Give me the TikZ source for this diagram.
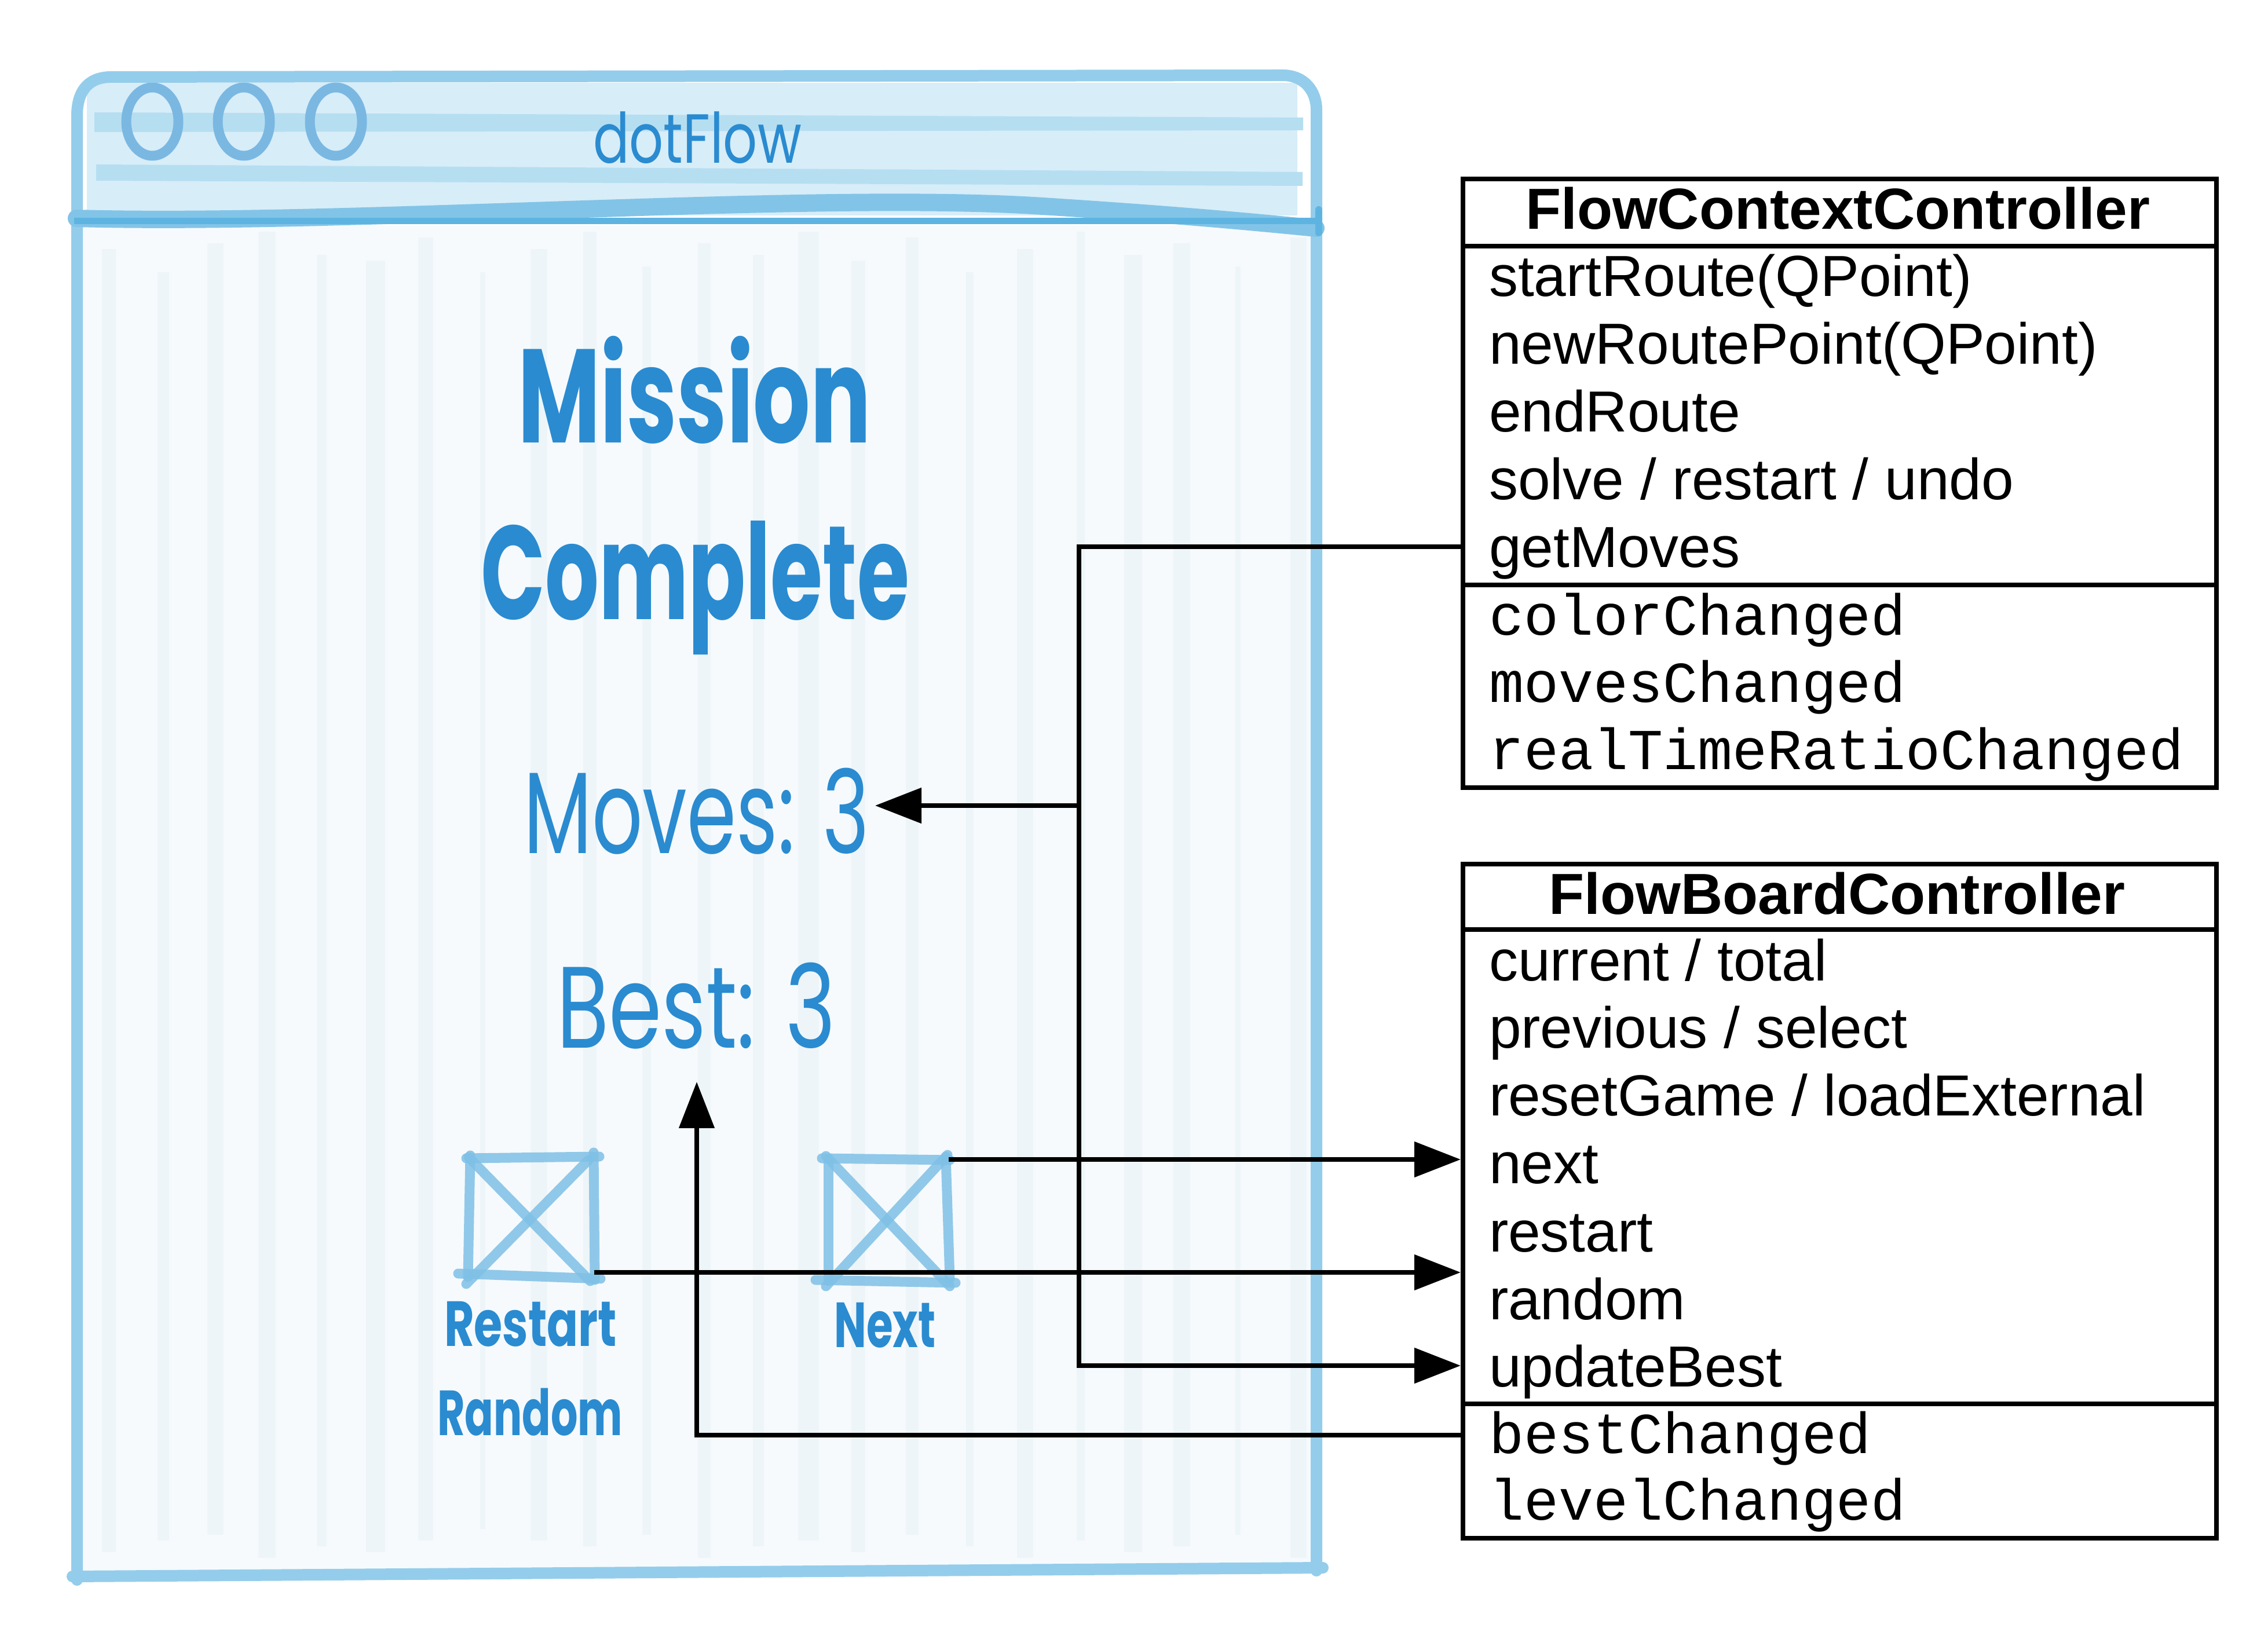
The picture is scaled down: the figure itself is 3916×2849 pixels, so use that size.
\documentclass[tikz,border=0pt]{standalone}
\usepackage{fontspec}
\usepackage{graphicx}
\setmainfont{Liberation Sans}
\setmonofont{Liberation Mono}
\newfontfamily\handfont{Poppins}
\usetikzlibrary{arrows.meta,calc}
\definecolor{hblue}{HTML}{2A8BD0}
\definecolor{wedge}{HTML}{94CDEB}
\definecolor{wdark}{HTML}{5EB4E1}
\definecolor{wwave}{HTML}{82C4E7}
\definecolor{tbar}{HTML}{D7EDF8}
\definecolor{tband}{HTML}{B6DEF1}
\definecolor{circc}{HTML}{7AB8E2}
\definecolor{bodyc}{HTML}{F6FAFD}
\definecolor{stripec}{HTML}{EDF5F8}
\definecolor{btnc}{HTML}{7FC0E6}
\newcommand{\handtext}[3]{\resizebox{#1}{\height}{\handfont\fontsize{#2}{#2}\selectfont #3}}
\begin{document}
\begin{tikzpicture}[x=0.1pt,y=-0.1pt,
  umlpart/.style={draw=black, line width=0.8pt, anchor=north west, inner sep=0pt, minimum width=130.1pt},
  member/.style={anchor=base west, inner sep=0pt, font=\fontsize{10}{12}\selectfont},
  signal/.style={anchor=base west, inner sep=0pt, font=\ttfamily\fontsize{10}{12}\selectfont},
  umltitle/.style={anchor=base, inner sep=0pt, font=\bfseries\fontsize{10}{12}\selectfont},
  conn/.style={draw=black, line width=0.8pt},
  arr/.style={conn, -{Triangle[length=8pt,width=6pt]}},
  hand/.style={text=hblue, inner sep=0pt, anchor=base},
  winedge/.style={draw=wedge, line width=2pt, line cap=round, line join=round},
  sketch/.style={draw=btnc, line width=1.7pt, line cap=round, opacity=0.85},
  btn/.style={inner sep=0pt, draw=none},
]
\useasboundingbox (0,0) rectangle (3916,2849);
\fill[white] (0,0) rectangle (3916,2849);

% ---------- window body ----------
\fill[bodyc] (142,390) rectangle (2264,2712);
\foreach \a/\b/\t/\u in {176/200/430/2680, 272/292/470/2660, 358/386/420/2650, 446/476/400/2690,
  547/564/440/2670, 632/665/450/2680, 722/748/410/2660, 829/838/470/2640, 916/945/430/2660,
  1007/1030/400/2670, 1109/1124/460/2650, 1205/1227/420/2690, 1300/1319/440/2670,
  1378/1414/400/2660, 1470/1494/450/2680, 1564/1586/410/2650, 1668/1681/470/2670,
  1756/1784/430/2690, 1859/1873/400/2660, 1941/1972/440/2680, 2026/2055/420/2670,
  2133/2142/460/2650, 2228/2256/410/2690}
  \fill[stripec] (\a,\t) rectangle (\b,\u);

% ---------- title bar ----------
\fill[tbar] (150,143) rectangle (2240,372);
\fill[tband] (163,194) -- (2250,203) -- (2250,225) -- (163,228) -- cycle;
\fill[tband] (166,284) -- (2249,297) -- (2249,321) -- (166,312) -- cycle;
\draw[circc, line width=1.7pt] (263,210) ellipse [x radius=45, y radius=59];
\draw[circc, line width=1.7pt] (421,210) ellipse [x radius=45, y radius=59];
\draw[circc, line width=1.7pt] (580,210) ellipse [x radius=45, y radius=59];
\node[hand] (dotflow) at (1204,282) {\handtext{36pt}{12}{dotFlow}};

% ---------- window frame ----------
\draw[winedge] (133,2728) -- (133,200) .. controls (133,160) and (150,134) .. (190,133)
  -- (2215,130) .. controls (2250,130) and (2273,155) .. (2273,190) -- (2273,2712);
\draw[draw=wwave, line width=3pt, line cap=round] (132,377) .. controls (600,390) and (1400,330) .. (1800,356)
  .. controls (2050,372) and (2180,385) .. (2272,394);
\draw[draw=wdark, line width=1.1pt] (128,382) -- (2283,382);
\draw[draw=wdark, line width=1.2pt, line cap=round] (2277,362) -- (2277,402);
\draw[winedge] (125,2722) -- (2284,2707);

% ---------- screen texts ----------
\node[hand] (mission) at (1199,765) {\handtext{61pt}{23}{\bfseries Mission}};
\node[hand] (complete) at (1200,1070) {\handtext{74pt}{23}{\bfseries Complete}};
\node[hand] (moves) at (1203,1474) {\handtext{59.7pt}{20}{Moves: 3}};
\node[hand] (best) at (1202,1810) {\handtext{48.2pt}{20}{Best: 3}};

% ---------- buttons ----------
\node[btn, minimum width=21.6pt, minimum height=19.6pt] (rbtn) at (916,2097) {};
\draw[sketch] (805,2000) -- (1035,1997);
\draw[sketch] (812,1995) -- (808,2205);
\draw[sketch] (1025,1990) -- (1027,2210);
\draw[sketch] (791,2199) -- (1037,2208);
\draw[sketch] (809,1998) -- (1019,2212);
\draw[sketch] (1016,2003) -- (805,2217);
\node[hand] (restart) at (916,2324) {\handtext{29.8pt}{11}{\bfseries Restart}};
\node[hand] (random) at (915,2478) {\handtext{32pt}{11}{\bfseries Random}};

\node[btn, minimum width=20.8pt, minimum height=20.8pt] (nbtn) at (1532,2108) {};
\draw[sketch] (1419,2000) -- (1640,2003);
\draw[sketch] (1430,2003) -- (1430,2212);
\draw[sketch] (1633,1997) -- (1640,2208);
\draw[sketch] (1408,2210) -- (1650,2215);
\draw[sketch] (1426,1996) -- (1640,2221);
\draw[sketch] (1636,1994) -- (1426,2221);
\node[hand] (next) at (1528,2326) {\handtext{17.5pt}{11}{\bfseries Next}};

% ---------- FlowContextController ----------
\node[umlpart, minimum height=11.6pt] (fcct) at (2522,305) {};
\node[umlpart, minimum height=58.5pt] (fccm) at (2522,421) {};
\node[umlpart, minimum height=35pt] (fccs) at (2522,1006) {};
\node[umltitle] (fcctitle) at (3173,396) {FlowContextController};
\node[member] (fcc1) at (2569,512) {startRoute(QPoint)};
\node[member] (fcc2) at (2569,629) {newRoutePoint(QPoint)};
\node[member] (fcc3) at (2569,746) {endRoute};
\node[member] (fcc4) at (2569,863) {solve / restart / undo};
\node[member] (fcc5) at (2569,980) {getMoves};
\node[signal] (fccs1) at (2569,1097) {colorChanged};
\node[signal] (fccs2) at (2569,1213) {movesChanged};
\node[signal] (fccs3) at (2569,1329) {realTimeRatioChanged};

% ---------- FlowBoardController ----------
\node[umlpart, minimum height=11.3pt] (fbct) at (2522,1488) {};
\node[umlpart, minimum height=81.9pt] (fbcm) at (2522,1601) {};
\node[umlpart, minimum height=23.2pt] (fbcs) at (2522,2420) {};
\node[umltitle] (fbctitle) at (3172,1579) {FlowBoardController};
\node[member] (fbc1) at (2569,1694) {current / total};
\node[member] (fbc2) at (2569,1810) {previous / select};
\node[member] (fbc3) at (2569,1927) {resetGame / loadExternal};
\node[member] (fbc4) at (2569,2044) {next};
\node[member] (fbc5) at (2569,2161) {restart};
\node[member] (fbc6) at (2569,2278) {random};
\node[member] (fbc7) at (2569,2394) {updateBest};
\node[signal] (fbcs1) at (2569,2509) {bestChanged};
\node[signal] (fbcs2) at (2569,2624) {levelChanged};

% ---------- connectors ----------
\coordinate (ygm) at (0,944);
\coordinate (yub) at (0,2358);
\coordinate (xj) at (1863,0);
\coordinate (ymv) at (0,1391);
\coordinate (mvtip) at (1511,1391);
\coordinate (ybc) at (0,2478);
\coordinate (besttip) at (1203,1868);
\draw[arr] (fccm.west |- ygm) -- (xj |- ygm) -- (xj |- yub) -- (fbcm.west |- yub);
\draw[arr] (xj |- ymv) -- (mvtip);
\draw[arr] (nbtn.north east) -- (fbcm.west |- nbtn.north east);
\draw[arr] (rbtn.south east) -- (fbcm.west |- rbtn.south east);
\draw[arr] (fbcs.west |- ybc) -| (besttip);
\end{tikzpicture}
\end{document}
